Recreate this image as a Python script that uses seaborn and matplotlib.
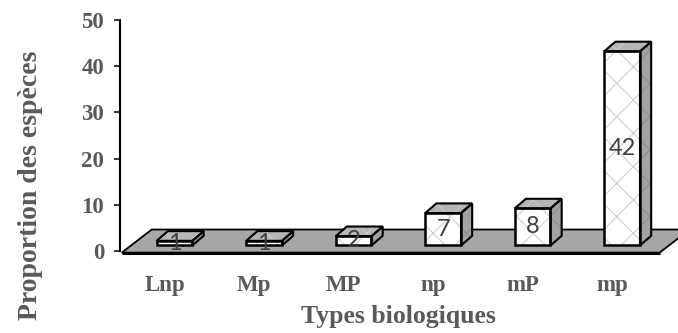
import numpy as np
import pandas as pd
import matplotlib
matplotlib.use("Agg")
import matplotlib.pyplot as plt
import seaborn as sns
from matplotlib.patches import Polygon, Rectangle

# ---- data ----
categories = ["Lnp", "Mp", "MP", "np", "mP", "mp"]
values = [1, 1, 2, 7, 8, 42]
y_ticks = [0, 10, 20, 30, 40, 50]
x_title = "Types biologiques"
y_title = "Proportion des espèces"

sns.set_theme(style="white")
plt.rcParams['font.family'] = ['Liberation Serif', 'DejaVu Serif']
plt.rcParams['hatch.linewidth'] = 0.8

TXT = "#595959"

fig = plt.figure(figsize=(6.78, 3.33), dpi=100)
ax = fig.add_axes([120/678, 82/333, 537/678, 231/333])

df = pd.DataFrame({"cat": categories, "val": values})
sns.barplot(data=df, x="cat", y="val", ax=ax, color="white", width=0.40,
            edgecolor="#d0d0d0", linewidth=0, hatch="x", saturation=1,
            zorder=3)
bars = list(ax.patches)

ax.set_xlim(-0.5, 5.5)
ax.set_ylim(0, 50)

# 3D geometry (category units / value units)
base = 1.2      # front face baseline (depth position on the floor)
shift = 0.11    # horizontal shift of the front face due to depth
ddx, ddy = 0.125, 2.1   # depth of bars

# floor
fx0, fx1, fy = -0.48, 5.53, -0.35
fdx, fdy = 0.335, 5.0
floor = Polygon([(fx0, fy), (fx1, fy), (fx1 + fdx, fy + fdy), (fx0 + fdx, fy + fdy)],
                closed=True, facecolor="#a6a6a6", edgecolor="black", lw=1.3,
                clip_on=False, zorder=1)
ax.add_patch(floor)
ax.plot([fx0, fx1], [fy, fy], color="black", lw=2.2, clip_on=False, zorder=1.5,
        solid_capstyle="butt")

for p, v in zip(bars, values):
    p.set_x(p.get_x() + shift)
    p.set_y(base)
    x0 = p.get_x()
    w = p.get_width()
    x1 = x0 + w
    y0 = base
    y1 = base + p.get_height()
    # side face
    side = [(x1, y0), (x1 + ddx, y0 + ddy), (x1 + ddx, y1 + ddy), (x1, y1)]
    ax.add_patch(Polygon(side, closed=True, facecolor="#a3a3a3", edgecolor="#8e8e8e",
                         lw=0, hatch="x", zorder=3, clip_on=False))
    ax.add_patch(Polygon(side, closed=True, facecolor="none", edgecolor="black",
                         lw=1.5, zorder=4, clip_on=False, joinstyle="miter"))
    # top face
    top = [(x0, y1), (x1, y1), (x1 + ddx, y1 + ddy), (x0 + ddx, y1 + ddy)]
    ax.add_patch(Polygon(top, closed=True, facecolor="#b5b5b5", edgecolor="#cacaca",
                         lw=0, hatch="x", zorder=3, clip_on=False))
    ax.add_patch(Polygon(top, closed=True, facecolor="none", edgecolor="black",
                         lw=1.5, zorder=4, clip_on=False, joinstyle="miter"))
    # front outline
    ax.add_patch(Rectangle((x0, y0), w, y1 - y0, facecolor="none", edgecolor="black",
                           lw=1.8, zorder=4, clip_on=False, joinstyle="miter"))
    # value label
    ax.text(x0 + w / 2, y0 + v / 2, f"{v}", ha="center", va="center",
            fontsize=17, color="#404040", family=["Lato", "DejaVu Sans"], zorder=6)

# axes styling
for s in ["top", "right", "bottom"]:
    ax.spines[s].set_visible(False)
ax.spines["left"].set_color("black")
ax.spines["left"].set_linewidth(1.5)
ax.set_yticks(y_ticks)
ax.set_yticklabels([str(t) for t in y_ticks])
ax.tick_params(axis="y", left=True, length=4.5, width=1.1, color="black", pad=7,
               labelsize=16.5, labelcolor=TXT)
ax.tick_params(axis="x", bottom=False, length=0, pad=17, labelsize=16.5, labelcolor=TXT)
for lab in ax.get_yticklabels() + ax.get_xticklabels():
    lab.set_fontweight("bold")
ax.grid(False)

ax.set_xlabel(x_title, fontsize=18.5, fontweight="bold", color=TXT)
ax.set_ylabel(y_title, fontsize=20, fontweight="bold", color=TXT)
ax.xaxis.set_label_coords(0.5 + (398 - 388) / 537, (251 - 316) / 231)
ax.xaxis.label.set_va("center")
ax.yaxis.set_label_coords((31 - 120) / 537, (251 - 185) / 231)
ax.yaxis.label.set_va("center")

fig.savefig("out.png", dpi=100, facecolor="white")
